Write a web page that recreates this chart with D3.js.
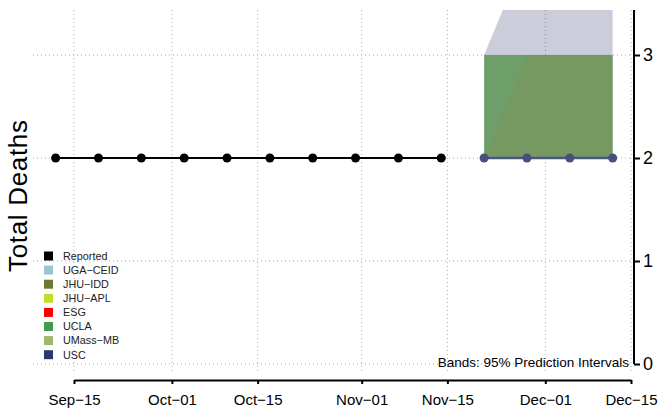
<!DOCTYPE html>
<html>
<head>
<meta charset="utf-8">
<script src="https://cdn.jsdelivr.net/npm/d3@7"></script>
<style>
  body { margin: 0; background: #fff; }
  svg { font-family: "Liberation Sans", Arial, sans-serif; }
</style>
</head>
<body>
<div id="chart"></div>
<script>
// weekly reported totals
const reportedDates = ["2020-09-12", "2020-09-19", "2020-09-26", "2020-10-03", "2020-10-10",
                       "2020-10-17", "2020-10-24", "2020-10-31", "2020-11-07", "2020-11-14"];
const reportedValues = [2, 2, 2, 2, 2, 2, 2, 2, 2, 2];

// forecast weeks
const forecastDates = ["2020-11-21", "2020-11-28", "2020-12-05", "2020-12-12"];
const forecastValues = [2, 2, 2, 2];

// 95% bands (lower / upper)
const uclaLower = [2, 2, 2, 2];
const uclaUpper = [3, 3, 3, 3];
const umassLower = [2, 2, 2, 2];
const umassUpper = [2, 3, 3, 3];
const uscLower = [3, 3, 3, 3];
const uscUpper = [3, 4, 5, 5];

const xTicks = ["2020-09-15", "2020-10-01", "2020-10-15", "2020-11-01", "2020-11-15", "2020-12-01", "2020-12-15"];
const xTickLabels = ["Sep\u221215", "Oct\u221201", "Oct\u221215", "Nov\u221201", "Nov\u221215", "Dec\u221201", "Dec\u221215"];
const yTicks = [0, 1, 2, 3];

const legendNames = ["Reported", "UGA\u2212CEID", "JHU\u2212IDD", "JHU\u2212APL", "ESG", "UCLA", "UMass\u2212MB", "USC"];
const legendColors = ["#000000", "#9cc3d0", "#6e7a30", "#bde02a", "#ff0000", "#469a4c", "#9fb86c", "#2e3670"];

const w = 658, h = 412;
const plotL = 33, plotR = 633, plotT = 10, plotB = 373;

const parse = d3.utcParse("%Y-%m-%d");

const x = d3.scaleUtc()
    .domain([parse("2020-09-15"), parse("2020-12-15")])
    .range([74, 631]);

const y = d3.scaleLinear()
    .domain([0, 3])
    .range([364, 55]);

const svg = d3.select("#chart")
    .append("svg")
    .attr("width", w)
    .attr("height", h);

svg.append("defs").append("clipPath")
    .attr("id", "plot")
    .append("rect")
    .attr("x", plotL).attr("y", plotT)
    .attr("width", plotR - plotL).attr("height", plotB - plotT);

// dotted grid
const grid = svg.append("g")
    .attr("stroke", "#a8a8a8")
    .attr("stroke-width", 1)
    .attr("stroke-dasharray", "1,3");

grid.selectAll(".gx")
    .data(xTicks)
    .enter()
    .append("line")
    .attr("x1", d => x(parse(d))).attr("x2", d => x(parse(d)))
    .attr("y1", plotT).attr("y2", plotB);

grid.selectAll(".gy")
    .data(yTicks)
    .enter()
    .append("line")
    .attr("x1", plotL).attr("x2", plotR)
    .attr("y1", d => y(d)).attr("y2", d => y(d));

// bands
let band = (lower, upper, fill, opacity) => {
    let pts = forecastDates.map((d, i) => ({ date: parse(d), lo: lower[i], hi: upper[i] }));
    let area = d3.area()
        .x(d => x(d.date))
        .y0(d => y(d.lo))
        .y1(d => y(d.hi));
    svg.append("path")
        .datum(pts)
        .attr("clip-path", "url(#plot)")
        .attr("d", area)
        .attr("fill", fill)
        .attr("fill-opacity", opacity);
};

band(uclaLower, uclaUpper, "#6e9f6a", 1);
band(umassLower, umassUpper, "#7e9257", 0.45);
band(uscLower, uscUpper, "#2e3670", 0.25);

// reported line + points
const reported = reportedDates.map((d, i) => ({ date: parse(d), v: reportedValues[i] }));
const forecast = forecastDates.map((d, i) => ({ date: parse(d), v: forecastValues[i] }));

const line = d3.line().x(d => x(d.date)).y(d => y(d.v));

svg.append("path")
    .datum(reported)
    .attr("d", line)
    .attr("fill", "none")
    .attr("stroke", "#000")
    .attr("stroke-width", 2);

svg.selectAll(".rp")
    .data(reported)
    .enter()
    .append("circle")
    .attr("cx", d => x(d.date))
    .attr("cy", d => y(d.v))
    .attr("r", 4.5)
    .attr("fill", "#000");

svg.append("path")
    .datum(forecast)
    .attr("d", line)
    .attr("fill", "none")
    .attr("stroke", "#4b5585")
    .attr("stroke-width", 2.5);

svg.selectAll(".fp")
    .data(forecast)
    .enter()
    .append("circle")
    .attr("cx", d => x(d.date))
    .attr("cy", d => y(d.v))
    .attr("r", 4.5)
    .attr("fill", "#474f7e");

// x axis
const xAxis = d3.axisBottom(x)
    .tickValues(xTicks.map(parse))
    .tickFormat((d, i) => xTickLabels[i])
    .tickSize(4)
    .tickPadding(10)
    .tickSizeOuter(0);

const gx = svg.append("g")
    .attr("transform", "translate(0,380)")
    .call(xAxis);
gx.select(".domain").attr("stroke-width", 2);
gx.selectAll(".tick line").attr("stroke-width", 2);
gx.selectAll("text").attr("font-size", 15).attr("fill", "#000")
    .attr("font-family", "Liberation Sans, Arial, sans-serif");

// y axis on right
const yAxis = d3.axisRight(y)
    .tickValues(yTicks)
    .tickFormat(d3.format("d"))
    .tickSize(6)
    .tickPadding(3)
    .tickSizeOuter(0);

const gy = svg.append("g")
    .attr("transform", "translate(634,0)")
    .call(yAxis);
gy.select(".domain").attr("d", "M0," + plotT + "V" + y(0)).attr("stroke-width", 2);
gy.selectAll(".tick line").attr("stroke-width", 2);
gy.selectAll("text").attr("font-size", 18).attr("fill", "#000")
    .attr("font-family", "Liberation Sans, Arial, sans-serif");

// y label
svg.append("text")
    .attr("transform", "translate(27,196) rotate(-90)")
    .attr("text-anchor", "middle")
    .attr("font-size", 26)
    .attr("textLength", 152)
    .text("Total Deaths");

// legend
const legend = svg.selectAll(".legend")
    .data(legendNames)
    .enter()
    .append("g")
    .attr("transform", (d, i) => "translate(44," + (256 + i * 14.1) + ")");

legend.append("rect")
    .attr("x", 0).attr("y", -4.5)
    .attr("width", 9).attr("height", 9)
    .attr("fill", (d, i) => legendColors[i]);

legend.append("text")
    .attr("x", 19).attr("y", 3.8)
    .attr("font-size", 10.8)
    .attr("fill", "#222")
    .text(d => d);

svg.append("text")
    .attr("x", 629).attr("y", 367)
    .attr("text-anchor", "end")
    .attr("font-size", 13.5)
    .text("Bands: 95% Prediction Intervals");
</script>
</body>
</html>
